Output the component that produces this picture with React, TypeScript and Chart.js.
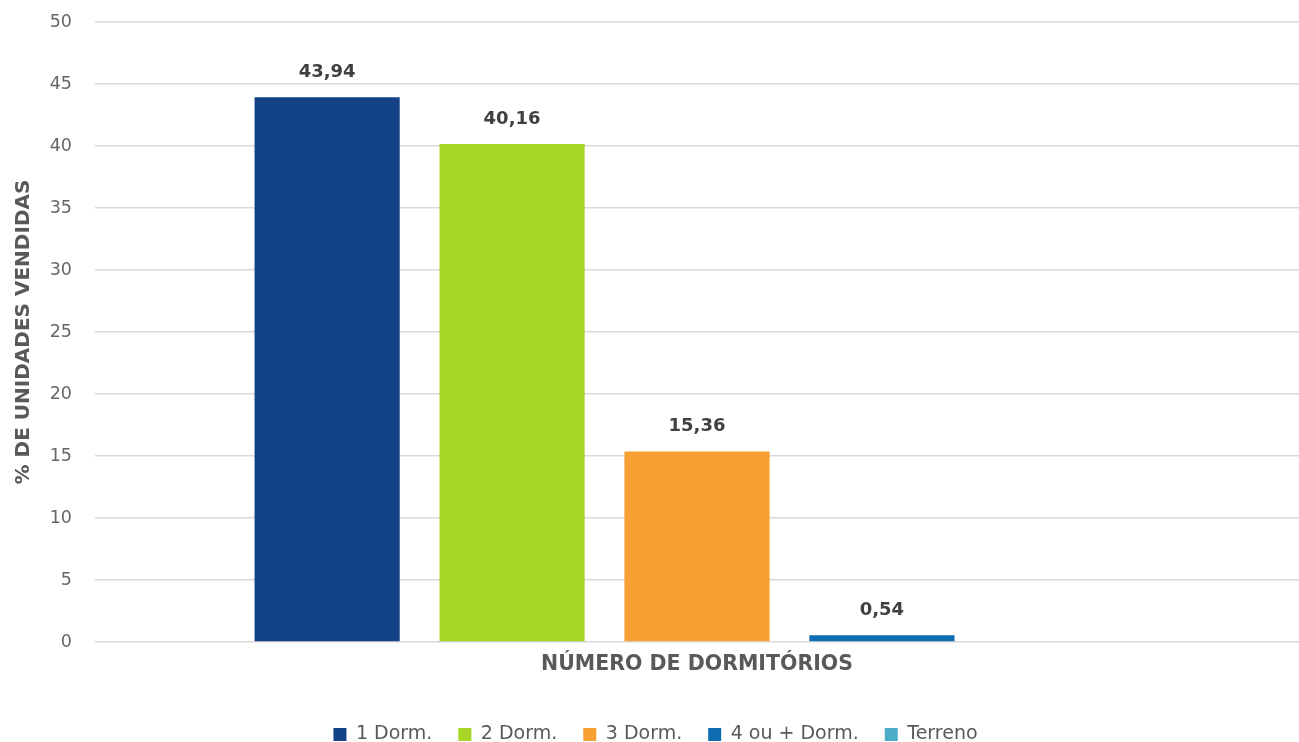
import React, { useEffect, useRef } from "react";
import { Chart, registerables } from "chart.js";

Chart.register(...registerables);

const categories = ["NÚMERO DE DORMITÓRIOS"];
const seriesNames = ["1 Dorm.", "2 Dorm.", "3 Dorm.", "4 ou + Dorm.", "Terreno"];
const seriesValues = [43.94, 40.16, 15.36, 0.54, 0];
const seriesColors = ["#134287", "#A8D626", "#F7A033", "#0E6DB0", "#4BADC6"];
const yTicks = [0, 5, 10, 15, 20, 25, 30, 35, 40, 45, 50];
const yTitle = "% DE UNIDADES VENDIDAS";

const FONT = "'DejaVu Sans', 'Open Sans', sans-serif";

const valueLabels = {
  id: "valueLabels",
  afterDatasetsDraw(chart: any) {
    const ctx = chart.ctx;
    ctx.save();
    ctx.font = "bold 18px " + FONT;
    ctx.fillStyle = "#404040";
    ctx.textAlign = "center";
    ctx.textBaseline = "middle";
    chart.data.datasets.forEach((ds: any, i: number) => {
      const meta = chart.getDatasetMeta(i);
      meta.data.forEach((el: any, j: number) => {
        const v = ds.data[j];
        if (!v) return;
        ctx.fillText(v.toFixed(2).replace(".", ","), el.x, el.y - 25);
      });
    });
    ctx.restore();
  },
};

export default function App() {
  const ref = useRef<HTMLCanvasElement>(null);
  useEffect(() => {
    document.body.style.margin = "0";
    const chart = new Chart(ref.current!, {
      type: "bar",
      data: {
        labels: categories,
        datasets: seriesNames.map((name, i) => ({
          label: name,
          data: [seriesValues[i]],
          backgroundColor: seriesColors[i],
          borderWidth: 0,
          categoryPercentage: 0.768,
          barPercentage: 0.785,
        })),
      },
      options: {
        animation: false,
        responsive: false,
        maintainAspectRatio: false,
        layout: { padding: { top: 22, right: -12, left: 0, bottom: -12 } },
        plugins: {
          tooltip: { enabled: false },
          legend: {
            position: "bottom",
            labels: {
              boxWidth: 13,
              boxHeight: 13,
              padding: 26,
              color: "#595959",
              font: { size: 19, family: FONT },
            },
          },
        },
        scales: {
          x: {
            grid: { display: false, drawTicks: false },
            border: { display: false },
            ticks: { display: false },
            title: {
              display: true,
              text: categories[0],
              color: "#595959",
              font: { size: 20.5, weight: "bold", family: FONT },
              padding: { top: 10.7, bottom: 21.7 },
            },
          },
          y: {
            min: 0,
            max: 50,
            afterBuildTicks(axis: any) {
              axis.ticks = yTicks.map((v) => ({ value: v }));
            },
            afterFit(axis: any) {
              axis.width = 95;
              axis.paddingTop = 0;
              axis.paddingBottom = 0;
            },
            grid: { color: "#D9D9D9", lineWidth: 1.6, drawTicks: false },
            border: { display: false },
            ticks: {
              color: "#666666",
              padding: 23,
              font: { size: 17.5, family: FONT },
            },
            title: {
              display: true,
              text: yTitle,
              color: "#595959",
              font: { size: 20, weight: "bold", family: FONT },
              padding: { top: 12, bottom: 4 },
            },
          },
        },
      },
      plugins: [valueLabels],
    } as any);
    return () => chart.destroy();
  }, []);
  return (
    <div style={{ width: 1299, height: 742 }}>
      <canvas ref={ref} width={1299} height={742} style={{ width: 1299, height: 742 }} />
    </div>
  );
}
